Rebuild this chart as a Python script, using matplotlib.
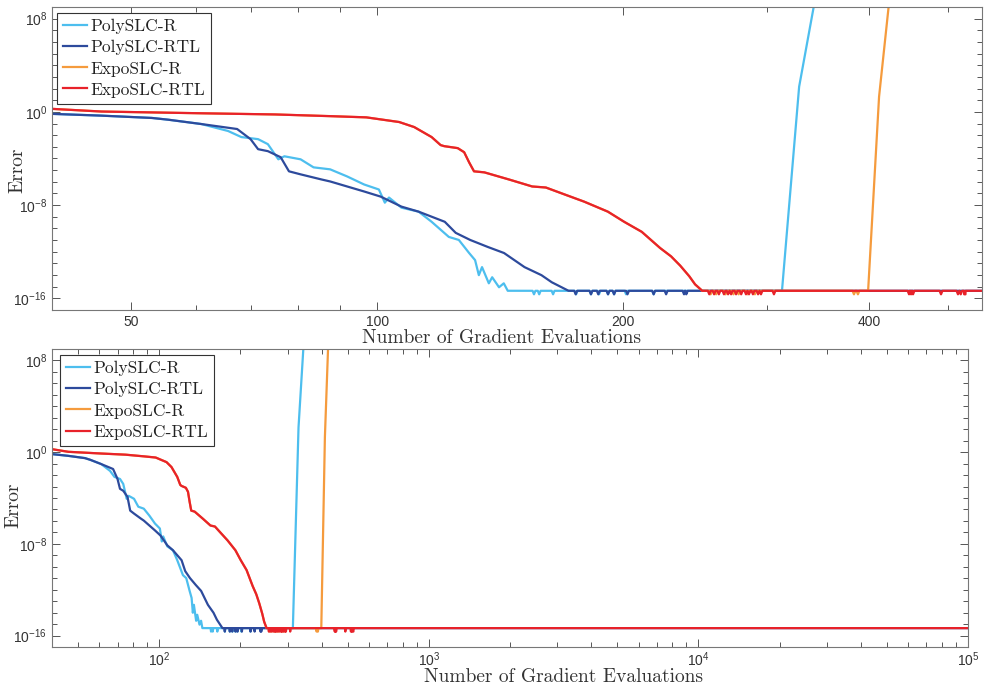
import numpy as np
import matplotlib.pyplot as plt
from matplotlib.ticker import FixedLocator, LogLocator, NullFormatter, LogFormatterSciNotation, FixedFormatter

plt.rcParams['font.family'] = ['Liberation Sans', 'DejaVu Sans']
plt.rcParams['mathtext.fontset'] = 'custom'
plt.rcParams['mathtext.rm'] = 'Liberation Sans'
plt.rcParams['mathtext.default'] = 'regular'
plt.rcParams['axes.unicode_minus'] = False

SERIF = 'cmr10'

# error floor reached by all methods and the dips below it
FLOOR = 4.44e-16
DIP = 2.22e-16

# descent phase: number of gradient evaluations / log10(error)
poly_r_x = [40, 45.9, 53.0, 55.5, 60.9, 65.7, 68.2, 71.5, 73.5, 75.7, 77.0, 80.6, 83.6, 87.6,
            91.9, 96.4, 100.5, 102.2, 103.4, 107.1, 112.4, 116.6, 122.4, 125.9, 129.6, 131.8,
            133.2, 134.4, 137.0, 138.3, 141.0, 142.9, 144.5]
poly_r_log = [-0.17, -0.32, -0.52, -0.67, -1.04, -1.64, -2.16, -2.34, -2.77, -4.07, -3.81, -4.07,
              -4.76, -4.93, -5.54, -6.23, -6.66, -7.79, -7.35, -8.22, -8.56, -9.43, -10.73, -10.99,
              -12.11, -12.72, -14.01, -13.32, -14.71, -14.19, -15.05, -14.71, -15.35]
poly_r_dips = [155.6, 157.9, 164.2, 175.2, 182.7, 186.9, 191.7, 195, 201.7, 218]
poly_r_floor_end = 313
poly_r_rise_x = [328.5, 342.6, 357]
poly_r_rise_log = [2.16, 9.17, 16.0]

poly_rtl_x = [40, 45.9, 53.0, 55.5, 60.9, 67.4, 70.0, 71.5, 73.5, 76.2, 78.0, 80.6, 85.5, 87.6,
              96.4, 101.0, 107.1, 112.4, 121.0, 124.8, 130.0, 136.6, 143.0, 151.5, 158.9, 163.6, 171.5]
poly_rtl_log = [-0.17, -0.32, -0.52, -0.67, -1.04, -1.47, -2.34, -3.2, -3.37, -3.89, -5.10, -5.36,
                -5.80, -5.97, -6.83, -7.27, -8.13, -8.56, -9.43, -10.38, -10.99, -11.59, -12.11,
                -13.32, -14.01, -14.62, -15.35]
poly_rtl_dips = [175, 182.7, 186.5, 191.7, 195, 202.5, 218, 225.8, 237.5, 239]
poly_rtl_floor_end = 1e5

expo_x = [40, 46, 61, 75, 88, 97, 106.4, 111, 116.6, 119.6, 120.8, 125.5, 127.8, 129.6, 131.4, 135.3,
          145, 154.8, 160.9, 169.7, 179.2, 191.6, 200.6, 210.8, 222, 229, 235, 241, 245, 250]
expo_log = [0.26, 0.03, -0.12, -0.22, -0.37, -0.47, -0.87, -1.30, -2.16, -2.85, -2.94, -3.11, -3.46,
            -4.33, -5.10, -5.19, -5.80, -6.40, -6.49, -7.09, -7.70, -8.56, -9.43, -10.29, -11.68,
            -12.4, -13.2, -14.1, -14.8, -15.35]

expo_r_dips = [256, 260, 267, 273, 277, 284, 290, 383.4, 387.7]
expo_r_floor_end = 399
expo_r_rise_x = [411.5, 423, 435]
expo_r_rise_log = [1.3, 9.2, 17.0]

expo_rtl_dips = [255, 258.5, 262, 265.8, 268.9, 271.2, 275, 279, 282.8, 285.2, 288.4, 292.6,
                 295, 306, 447.8, 450.3, 452.8, 490, 514, 518, 523, 525]
expo_rtl_floor_end = 1e5

labels = ['PolySLC-R', 'PolySLC-RTL', 'ExpoSLC-R', 'ExpoSLC-RTL']
colors = ['#4DBEEE', '#2D4A9C', '#F59B3D', '#E8222A']


def build(x, lg, dips, floor_end, rise_x=(), rise_log=()):
    pts = [(a, 10.0 ** b) for a, b in zip(x, lg)]
    for d in dips:
        pts += [(d * 0.996, FLOOR), (d, DIP), (d * 1.004, FLOOR)]
    pts.append((floor_end, FLOOR))
    pts.sort()
    pts += [(a, 10.0 ** b) for a, b in zip(rise_x, rise_log)]
    xs, ys = zip(*pts)
    return np.array(xs), np.array(ys)


series = [
    build(poly_r_x, poly_r_log, poly_r_dips, poly_r_floor_end, poly_r_rise_x, poly_r_rise_log),
    build(poly_rtl_x, poly_rtl_log, poly_rtl_dips, poly_rtl_floor_end),
    build(expo_x, expo_log, expo_r_dips, expo_r_floor_end, expo_r_rise_x, expo_r_rise_log),
    build(expo_x, expo_log, expo_rtl_dips, expo_rtl_floor_end),
]

fig = plt.figure(figsize=(9.84, 6.91), dpi=100)
ax1 = fig.add_axes([52 / 984, 1 - 310 / 691, 930 / 984, 303 / 691])
ax2 = fig.add_axes([52 / 984, 1 - 647 / 691, 916 / 984, 298 / 691])

for ax in (ax1, ax2):
    for (xs, ys), lab, c in zip(series, labels, colors):
        ax.plot(xs, ys, color=c, lw=1.6, label=lab)
    ax.set_xscale('log')
    ax.set_yscale('log')
    ax.set_ylim(1e-17, 1e9)
    ax.yaxis.set_major_locator(FixedLocator([1e-16, 1e-8, 1e0, 1e8]))
    ax.yaxis.set_minor_locator(FixedLocator([10.0 ** k for k in range(-17, 10)]))
    ax.yaxis.set_major_formatter(LogFormatterSciNotation())
    ax.yaxis.set_minor_formatter(NullFormatter())
    ax.tick_params(which='both', direction='in', top=True, right=True,
                   colors='#555555', labelcolor='#333333', labelsize=10, width=0.7)
    ax.tick_params(which='major', length=6)
    ax.tick_params(which='minor', length=3.5)
    for sp in ax.spines.values():
        sp.set_color('#777777')
        sp.set_linewidth(0.8)
    ax.set_ylabel('Error', family=SERIF, fontsize=14, color='#333333')
    ax.set_xlabel('Number of Gradient Evaluations', family=SERIF, fontsize=14, color='#333333')

ax1.set_xlim(40, 550)
ax1.xaxis.set_major_locator(FixedLocator([50, 100, 200, 400]))
ax1.xaxis.set_major_formatter(FixedFormatter(['50', '100', '200', '400']))
ax1.xaxis.set_minor_locator(LogLocator(base=10, subs=np.arange(2, 10)))
ax1.xaxis.set_minor_formatter(NullFormatter())

ax2.set_xlim(40, 1e5)
ax2.xaxis.set_major_locator(FixedLocator([1e2, 1e3, 1e4, 1e5]))
ax2.xaxis.set_major_formatter(LogFormatterSciNotation())
ax2.xaxis.set_minor_locator(LogLocator(base=10, subs=np.arange(2, 10), numticks=20))
ax2.xaxis.set_minor_formatter(NullFormatter())
ax2.tick_params(axis='x', which='major', pad=2.5)

ax1.xaxis.set_label_coords(0.483, -0.064)
ax2.xaxis.set_label_coords(0.558, -0.072)
ax1.yaxis.set_label_coords(-0.028, 0.462)
ax2.yaxis.set_label_coords(-0.032, 0.477)

for ax, (lx, ly) in ((ax1, (57, 13)), (ax2, (60, 355))):
    leg = ax.legend(loc='upper left', bbox_to_anchor=(lx / 984, 1 - ly / 691),
                    bbox_transform=fig.transFigure, borderaxespad=0,
                    prop={'family': SERIF, 'size': 12.5}, fancybox=False, framealpha=1,
                    edgecolor='#333333', borderpad=0.35, handlelength=1.35,
                    handletextpad=0.2, labelspacing=0.33)
    leg.get_frame().set_linewidth(0.8)
    for t in leg.get_texts():
        t.set_color('#222222')

fig.savefig('out.png', dpi=100)
